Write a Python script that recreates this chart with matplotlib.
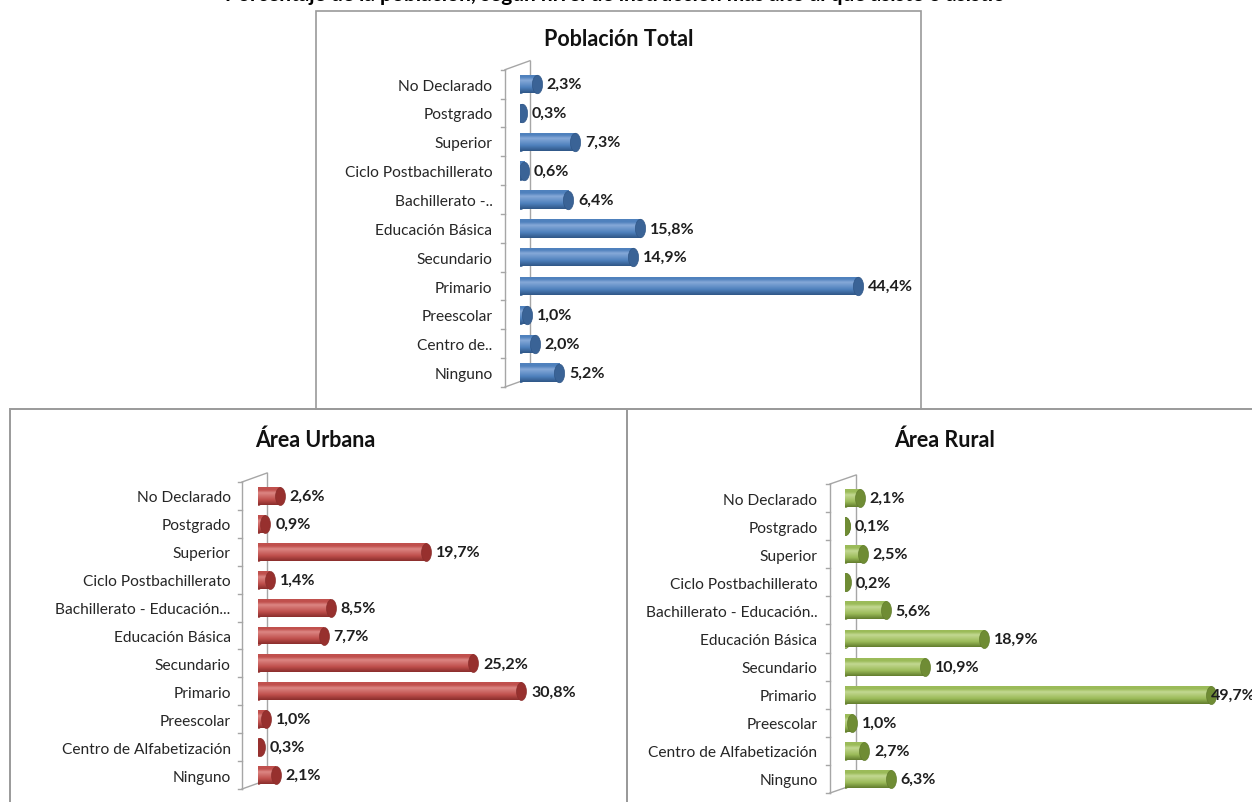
import numpy as np
import matplotlib
matplotlib.use("Agg")
import matplotlib.pyplot as plt
from matplotlib.colors import LinearSegmentedColormap
from matplotlib.path import Path
from matplotlib.patches import Rectangle
from matplotlib.lines import Line2D

plt.rcParams['font.family'] = ['Lato', 'DejaVu Sans']

# ---------------- data ----------------
labels_total = ["Ninguno", "Centro de..", "Preescolar", "Primario", "Secundario",
                "Educación Básica", "Bachillerato -..", "Ciclo Postbachillerato",
                "Superior", "Postgrado", "No Declarado"]
labels_urbana = ["Ninguno", "Centro de Alfabetización", "Preescolar", "Primario",
                 "Secundario", "Educación Básica", "Bachillerato - Educación...",
                 "Ciclo Postbachillerato", "Superior", "Postgrado", "No Declarado"]
labels_rural = ["Ninguno", "Centro de Alfabetización", "Preescolar", "Primario",
                "Secundario", "Educación Básica", "Bachillerato - Educación..",
                "Ciclo Postbachillerato", "Superior", "Postgrado", "No Declarado"]

total = [5.2, 2.0, 1.0, 44.4, 14.9, 15.8, 6.4, 0.6, 7.3, 0.3, 2.3]
urbana = [2.1, 0.3, 1.0, 30.8, 25.2, 7.7, 8.5, 1.4, 19.7, 0.9, 2.6]
rural = [6.3, 2.7, 1.0, 49.7, 10.9, 18.9, 5.6, 0.2, 2.5, 0.1, 2.1]

main_title = "Porcentaje de la población, según nivel de instrucción más alto al que asiste o asistió"
title_total = "Población Total"
title_urbana = "Área Urbana"
title_rural = "Área Rural"

# palettes: dark, base, light, cap
blue = ("#2f5687", "#4f81bd", "#86a9d8", "#3a6396")
red = ("#8a2e2c", "#c0504d", "#dc8683", "#97302e")
green = ("#627d2d", "#9bbb59", "#c3d892", "#6f8c34")

W, H = 1252, 803
fig = plt.figure(figsize=(W / 100, H / 100), dpi=100)
fig.patch.set_facecolor("white")

def fx(px):
    return px / W

def fy(py):
    return 1 - py / H

# ellipse marker path (tall)
theta = np.linspace(0, 2 * np.pi, 60)
ell = Path(np.column_stack([0.55 * np.cos(theta), np.sin(theta)]), closed=True)

BAR_H = 0.64


def panel(zero_px, top_px, right_px, bottom_px, xmax, values, labels, pal,
          front_dx, back_dx, back_dy):
    wpx = right_px - zero_px
    hpx = bottom_px - top_px
    ax = fig.add_axes([fx(zero_px), fy(bottom_px), wpx / W, hpx / H])
    ax.set_facecolor("none")
    y = np.arange(len(values))
    dark, base, light, cap = pal
    cmap = LinearSegmentedColormap.from_list(
        "cyl", [(0.0, dark), (0.3, base), (0.68, light), (0.85, base), (1.0, base)])
    grad = np.linspace(0, 1, 64).reshape(-1, 1)
    bars = ax.barh(y, values, height=BAR_H, color="none", edgecolor="none", zorder=3)
    for b in bars:
        x0, y0, bw, bh = b.get_x(), b.get_y(), b.get_width(), b.get_height()
        im = ax.imshow(grad, extent=[x0, x0 + bw, y0, y0 + bh], origin="lower",
                       aspect="auto", cmap=cmap, zorder=3, interpolation="bilinear")
        im.set_clip_path(b)
    # marker size = bar height in points
    row_px = hpx / len(values)
    msize = BAR_H * row_px * 0.72
    ax.scatter(np.zeros(len(values)), y, marker=ell, s=msize ** 2, color=base,
               edgecolors=dark, linewidths=0.4, zorder=2.8)
    ax.scatter(values, y, marker=ell, s=msize ** 2, color=cap,
               edgecolors=dark, linewidths=0.5, zorder=4)
    for v, yy in zip(values, y):
        # labels that would run past the panel edge are pulled onto the bar end
        off = 7 if v / xmax < 0.895 else 0
        ax.annotate(f"{v:.1f}%".replace(".", ","), (v, yy), xytext=(off, 0),
                    textcoords="offset points", ha="left", va="center",
                    fontsize=11.5, fontweight="bold", color="#1e1e1e",
                    annotation_clip=False, zorder=5)
    ax.set_xlim(0, xmax)
    ax.set_ylim(-0.5, len(values) - 0.5)
    ax.set_yticks(y)
    ax.set_yticklabels(labels, fontsize=11.2, color="#262626")
    ax.tick_params(axis="y", length=0, pad=19.5)
    ax.set_xticks([])
    for s in ax.spines.values():
        s.set_visible(False)
    # 3D wall
    fdx = front_dx / wpx
    bdx = back_dx / wpx
    bdy = back_dy / hpx
    wc = "#a6a6a6"
    ax.add_line(Line2D([fdx, fdx], [0, 1], transform=ax.transAxes, color=wc,
                       lw=1, clip_on=False, zorder=1))
    ax.add_line(Line2D([bdx, bdx], [bdy, 1 + bdy], transform=ax.transAxes, color=wc,
                       lw=1, clip_on=False, zorder=1))
    ax.add_line(Line2D([fdx, bdx], [1, 1 + bdy], transform=ax.transAxes, color=wc,
                       lw=1, clip_on=False, zorder=1))
    ax.add_line(Line2D([fdx, bdx], [0, bdy], transform=ax.transAxes, color=wc,
                       lw=1, clip_on=False, zorder=1))
    tk = ax.get_yaxis_transform()
    for k in range(len(values) + 1):
        ax.add_line(Line2D([fdx - 4 / wpx, fdx], [k - 0.5, k - 0.5], transform=tk,
                           color=wc, lw=1, clip_on=False, zorder=1))
    return ax


# panel frames
border = "#9a9a9a"
fig.add_artist(Rectangle((fx(316), fy(410)), fx(921) - fx(316), fy(12) - fy(410),
                         transform=fig.transFigure, fill=False, ec=border, lw=1.2))
fig.add_artist(Rectangle((fx(10), fy(806)), fx(627) - fx(10), fy(410) - fy(806),
                         transform=fig.transFigure, fill=False, ec=border, lw=1.4))
fig.add_artist(Rectangle((fx(627), fy(806)), fx(1258) - fx(627), fy(410) - fy(806),
                         transform=fig.transFigure, fill=False, ec=border, lw=1.4))

panel(519.5, 70.7, 900.5, 388, 50, total, labels_total, blue, -14.5, 10.5, 9)
panel(257.8, 483, 600, 790, 40, urbana, labels_urbana, red, -15.8, 9.2, 9)
panel(844.5, 485, 1250, 794, 55, rural, labels_rural, green, -14.5, 11.5, 9)

fig.text(fx(619), fy(40), title_total, ha="center", va="center", fontsize=15.5,
         fontweight="bold", color="#111111")
fig.text(fx(315), fy(440), title_urbana, ha="center", va="center", fontsize=15.5,
         fontweight="bold", color="#111111")
fig.text(fx(945), fy(440), title_rural, ha="center", va="center", fontsize=15.5,
         fontweight="bold", color="#111111")
# the page title in the reference is cropped at the top edge: only its lower part shows
fig.text(fx(615), fy(1.0), main_title, ha="center", va="baseline", fontsize=15,
         fontweight="bold", color="#000000")

fig.savefig("out.png", dpi=100)
